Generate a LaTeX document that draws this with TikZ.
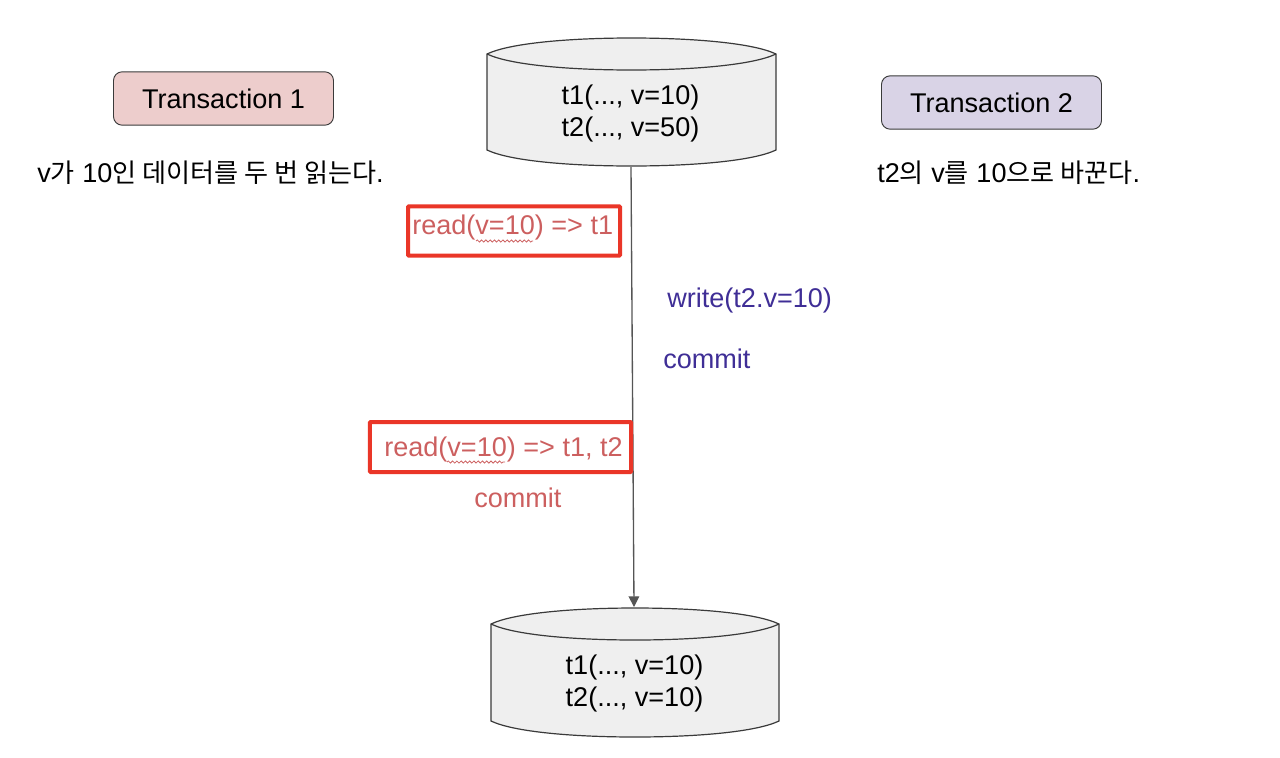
\documentclass[tikz,border=0pt]{standalone}
\usepackage{fontspec}
\setmainfont{Liberation Sans}
\newfontfamily\cjk[Scale=0.965]{Noto Sans CJK KR}
\usetikzlibrary{arrows.meta,decorations.pathmorphing}
\definecolor{pinkfill}{HTML}{EDCDCC}
\definecolor{purplefill}{HTML}{D9D3E6}
\definecolor{cylfill}{HTML}{EFEFEF}
\definecolor{edge}{HTML}{3A3A3A}
\definecolor{redtext}{HTML}{CC5F5F}
\definecolor{redbox}{HTML}{EA3628}
\definecolor{bluetext}{HTML}{3F2E96}
\definecolor{wire}{HTML}{555555}
\tikzset{
  every node/.style={font=\fontsize{20.3pt}{24pt}\selectfont,inner sep=0pt},
  txn/.style={draw=edge,line width=0.7pt,rounded corners=6.5pt,minimum width=165pt,minimum height=40pt,text=black},
  cyl/.style={fill=cylfill,draw=edge,line width=0.9pt},
  note/.style={text=black},
  redlabel/.style={text=redtext},
  bluelabel/.style={text=bluetext},
  redframe/.style={draw=redbox,line width=3pt,rounded corners=0.6pt},
  squiggle/.style={draw=redtext,line width=0.6pt,decorate,decoration={snake,amplitude=0.8pt,segment length=3.2pt}},
  wirearrow/.style={draw=wire,line width=1pt,-{Triangle[length=8pt,width=8pt]}},
}
\begin{document}
\begin{tikzpicture}[x=0.75pt,y=-0.75pt]
\useasboundingbox (0,0) rectangle (1280,757);
% cylinder A
\draw[cyl] (487,54) .. controls (510,43) and (570,38) .. (631.5,38) .. controls (693,38) and (753,43) .. (776,54)
  -- (776,150) .. controls (753,161) and (693,166) .. (631.5,166) .. controls (570,166) and (510,161) .. (487,150) -- cycle;
\draw[cyl,fill=none] (487,54) .. controls (510,65) and (570,70) .. (631.5,70) .. controls (693,70) and (753,65) .. (776,54);
% cylinder B
\draw[cyl] (491,624) .. controls (514,613) and (574,608) .. (635,608) .. controls (696,608) and (756,613) .. (779,624)
  -- (779,721) .. controls (756,732) and (696,737) .. (635,737) .. controls (574,737) and (514,732) .. (491,721) -- cycle;
\draw[cyl,fill=none] (491,624) .. controls (514,635) and (574,640) .. (635,640) .. controls (696,640) and (756,635) .. (779,624);
\coordinate (dbAout) at (631,167);
\coordinate (dbBin) at (634,607);
\node[align=center] (dbA) at (630.5,113.5) {t1(..., v=10)\\t2(..., v=50)};
\node[align=center] (dbB) at (634.5,683.5) {t1(..., v=10)\\t2(..., v=10)};
% transactions
\node[txn,fill=pinkfill] (t1) at (223.5,98.5) {\raisebox{-1.2pt}{Transaction 1}};
\node[txn,fill=purplefill] (t2) at (991.5,102.5) {\raisebox{-1.2pt}{Transaction 2}};
% notes
\node[note,anchor=base west] (n1) at (37,182) {v{\cjk 가} 10{\cjk 인 데이터를 두 번 읽는다}.};
\node[note,anchor=base west] (n2) at (877,182) {t2{\cjk 의} v{\cjk 를} 10{\cjk 으로 바꾼다}.};
% connector
\draw[wirearrow] (dbAout) -- (dbBin);
% red frames
\node[redframe,minimum width=159pt,minimum height=37pt] (f1) at (514,231) {};
\node[redframe,minimum width=196pt,minimum height=37.5pt] (f2) at (500.5,447) {};
% labels
\node[redlabel,anchor=base west] (r1) at (412,234) {read(v=10) => t1};
\node[redlabel,anchor=base west] (r2) at (384,456) {read(v=10) => t1, t2};
\node[redlabel,anchor=base west] (c1) at (474,507) {commit};
\node[bluelabel,anchor=base west] (w2) at (667,307) {write(t2.v=10)};
\node[bluelabel,anchor=base west] (c2) at (663,368) {commit};
% spell-check squiggles
\coordinate (s1a) at (476,241); \coordinate (s1b) at (533,241);
\coordinate (s2a) at (447,462); \coordinate (s2b) at (505,462);
\path[squiggle] (s1a) -- (s1b);
\path[squiggle] (s2a) -- (s2b);
\end{tikzpicture}
\end{document}
